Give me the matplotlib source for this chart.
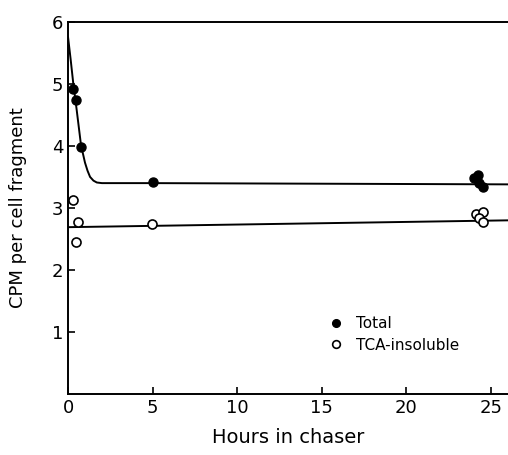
import matplotlib
matplotlib.use("Agg")
import matplotlib.pyplot as plt

# Total (filled circles)
total_x = [0.31, 0.47, 0.77, 5.0, 24.0, 24.2, 24.3, 24.5]
total_y = [4.92, 4.74, 3.98, 3.42, 3.48, 3.53, 3.40, 3.34]

# TCA-insoluble (open circles)
tca_x = [0.31, 0.61, 0.47, 4.94, 24.1, 24.5, 24.3, 24.5]
tca_y = [3.13, 2.77, 2.45, 2.74, 2.91, 2.94, 2.84, 2.78]

# hand-drawn fitted curves
total_fit_x = [0, 0.15, 0.31, 0.5, 0.77, 0.9, 1.0, 1.15, 1.3, 1.5, 1.7, 2.0, 5, 26]
total_fit_y = [5.75, 5.4, 5.0, 4.6, 4.0, 3.85, 3.73, 3.6, 3.5, 3.44, 3.41, 3.40, 3.40, 3.38]
tca_fit_x = [0, 26]
tca_fit_y = [2.69, 2.80]

fig = plt.figure(figsize=(5.08, 4.55), dpi=100)
ax = fig.add_axes([0.134, 0.134, 0.866, 0.818])

ax.plot(total_fit_x, total_fit_y, color="black", lw=1.4)
ax.plot(tca_fit_x, tca_fit_y, color="black", lw=1.4)
ax.plot(total_x, total_y, "o", color="black", ms=6.5, label="Total")
ax.plot(tca_x, tca_y, "o", mfc="white", mec="black", mew=1.2, ms=6.5,
        label="TCA-insoluble")

ax.set_xlim(0, 26)
ax.set_ylim(0, 6)
ax.set_xticks([0, 5, 10, 15, 20, 25])
ax.set_yticks([1, 2, 3, 4, 5, 6])
ax.tick_params(direction="in", labelsize=13, width=1.2, length=5)
ax.spines["right"].set_visible(False)
for s in ["left", "bottom", "top"]:
    ax.spines[s].set_linewidth(1.4)

ax.set_xlabel("Hours in chaser", fontsize=14, labelpad=8)
ax.set_ylabel("CPM per cell fragment", fontsize=13, labelpad=18)

ax.legend(loc="upper left", bbox_to_anchor=(0.56, 0.225), frameon=False,
          fontsize=11, handletextpad=0.3, labelspacing=0.4, borderaxespad=0,
          markerscale=0.85)

fig.savefig("out.png", dpi=100)
